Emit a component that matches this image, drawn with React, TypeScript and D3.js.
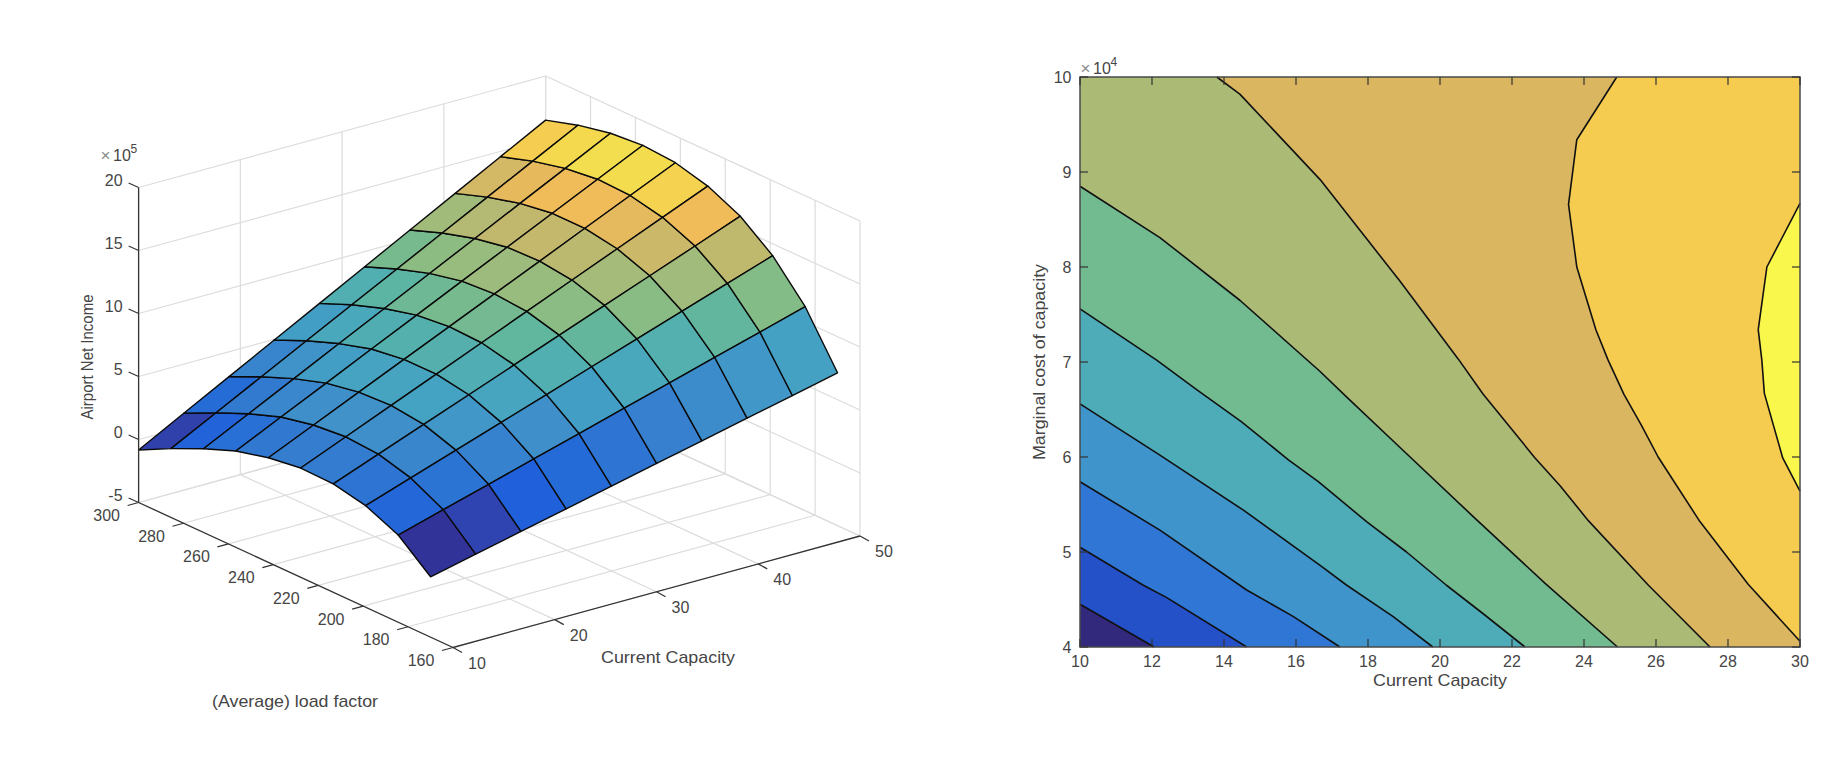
import React from "react";
import * as d3 from "d3";

const capacityGrid = [10, 14.44, 18.89, 23.33, 27.78, 32.22, 36.67, 41.11, 45.56, 50];
const loadGrid = [300, 285.6, 271.1, 256.7, 242.2, 227.8, 213.3, 198.9, 184.4, 170];
// rows follow loadGrid, columns follow capacityGrid; units of 1e5
const income = [
  [-0.83, 1.1, 3.02, 4.95, 6.87, 8.8, 10.73, 12.65, 14.58, 16.5],
  [0.46, 2.33, 4.2, 6.07, 7.94, 9.8, 11.67, 13.54, 15.41, 17.28],
  [1.64, 3.44, 5.24, 7.04, 8.84, 10.64, 12.43, 14.23, 16.03, 17.83],
  [2.65, 4.36, 6.07, 7.79, 9.5, 11.21, 12.92, 14.63, 16.35, 18.06],
  [3.3, 4.92, 6.54, 8.16, 9.78, 11.39, 13.01, 14.63, 16.25, 17.87],
  [3.67, 5.17, 6.68, 8.18, 9.68, 11.19, 12.69, 14.19, 15.7, 17.2],
  [3.6, 4.98, 6.36, 7.73, 9.11, 10.49, 11.87, 13.24, 14.62, 16],
  [3.06, 4.28, 5.5, 6.72, 7.94, 9.17, 10.39, 11.61, 12.83, 14.05],
  [1.92, 2.95, 3.98, 5.01, 6.04, 7.07, 8.1, 9.13, 10.16, 11.19],
  [-0.21, 0.61, 1.42, 2.24, 3.05, 3.87, 4.68, 5.5, 6.31, 7.13],
];
const colorValues = [-0.2, 0.6, 1.4, 2.5, 3.5, 5, 6.3, 7.5, 9, 10.2, 12, 13, 14.5, 15.5, 16.3];
const colorStops = ["#323399", "#2f44b0", "#2060da", "#276ed7", "#337bd0", "#3f90ca", "#44a1c4", "#4dacb8", "#5eb5a0", "#84bc85", "#a8bb78", "#c4b86c", "#eeb95a", "#f5cf50", "#f3de4f"];

const capTicks = [10, 20, 30, 40, 50];
const loadTicks = [160, 180, 200, 220, 240, 260, 280, 300];
const zTicks = [-5, 0, 5, 10, 15, 20];

const contourCapTicks = [10, 12, 14, 16, 18, 20, 22, 24, 26, 28, 30];
const costTicks = [4, 5, 6, 7, 8, 9, 10];
const bandColors = ["#32297d", "#2450c8", "#3076d4", "#4094cc", "#4dacb8", "#72bb90", "#abba75", "#dab660", "#f5cb50", "#f9f64c"];
const contourLines: [number, number][][] = [
  [[10, 4.45], [12.06, 4]],
  [[10, 5.05], [11.76, 4.65], [12.41, 4.52], [14.63, 4]],
  [[10, 5.74], [12.22, 5.23], [14.63, 4.6], [15.93, 4.32], [17.22, 4]],
  [[10, 6.56], [12.22, 6.02], [14.54, 5.44], [16.67, 4.86], [17.41, 4.65], [18.7, 4.32], [19.8, 4]],
  [[10, 7.56], [12.13, 7.02], [13.24, 6.71], [14.49, 6.37], [15.79, 5.97], [16.62, 5.74], [17.96, 5.32], [19.07, 5], [20.18, 4.65], [21.2, 4.35], [22.36, 4]],
  [[10, 8.85], [12.22, 8.31], [14.44, 7.65], [16.67, 6.9], [17.41, 6.63], [18.89, 6.1], [20.93, 5.37], [22.92, 4.67], [24.93, 4]],
  [[13.8, 10], [14.44, 9.82], [16.67, 8.92], [18.89, 7.85], [20.51, 7.03], [21.2, 6.66], [22.64, 5.99], [23.33, 5.7], [24.12, 5.33], [25.79, 4.65], [27.5, 4]],
  [[24.91, 10], [23.8, 9.34], [23.57, 8.66], [23.8, 8], [24.33, 7.34], [24.67, 7.02], [25.11, 6.66], [25.6, 6.33], [26.06, 6], [27.22, 5.32], [28.56, 4.66], [30, 4.06]],
  [[30, 8.67], [29.08, 8], [28.84, 7.34], [28.94, 7.02], [29.01, 6.67], [29.52, 5.99], [30, 5.64]],
];

const TEXT = "#454545";
const FONT = "'Liberation Sans', Arial, sans-serif";
const W = 1826, H = 762;

// oblique projection: anchors of the 3D box
const capT = d3.scaleLinear().domain([10, 50]).range([0, 1]);
const loadT = d3.scaleLinear().domain([300, 160]).range([0, 1]);
const zPx = d3.scaleLinear().domain([-5, 20]).range([0, 315]);
const A = [138.6, 502.5];
const vx = [407, -111.5];
const vy = [314.4, 145];
function proj(c: number, l: number, z: number): [number, number] {
  const u = capT(c), v = loadT(l);
  return [A[0] + vx[0] * u + vy[0] * v, A[1] + vx[1] * u + vy[1] * v - zPx(z)];
}

const color = d3.scaleLinear<string>().domain(colorValues).range(colorStops).interpolate(d3.interpolateRgb).clamp(true);
const line = d3.line();

function Lbl(p: { x: number; y: number; t: React.ReactNode; len?: number; anchor?: string; size?: number; rot?: number }) {
  const size = p.size ?? 16;
  return (
    <text
      transform={`translate(${p.x},${p.y})${p.rot ? ` rotate(${p.rot})` : ""}`}
      textAnchor={p.anchor ?? "middle"}
      fontFamily={FONT}
      fontSize={size}
      fill={TEXT}
      textLength={p.len}
      lengthAdjust={p.len ? "spacingAndGlyphs" : undefined}
    >
      {p.t}
    </text>
  );
}

function Exponent(p: { x: number; y: number; power: number }) {
  return (
    <g fontFamily={FONT} fill={TEXT}>
      <text x={p.x} y={p.y} fontSize={17} fontWeight={300} fill="#8a8a8a">×</text>
      <text x={p.x + 12.5} y={p.y} fontSize={16}>10</text>
      <text x={p.x + 30} y={p.y - 8} fontSize={12}>{p.power}</text>
    </g>
  );
}

function Surface() {
  const seg = (a: [number, number], b: [number, number], k: string, stroke = "#dcdcdc", w = 1.2) => (
    <line key={k} x1={a[0]} y1={a[1]} x2={b[0]} y2={b[1]} stroke={stroke} strokeWidth={w} />
  );
  const grid: React.ReactNode[] = [];
  capTicks.forEach((c) => {
    grid.push(seg(proj(c, 300, -5), proj(c, 160, -5), `f${c}`));
    grid.push(seg(proj(c, 300, -5), proj(c, 300, 20), `w${c}`));
  });
  loadTicks.forEach((l) => {
    grid.push(seg(proj(10, l, -5), proj(50, l, -5), `g${l}`));
    grid.push(seg(proj(50, l, -5), proj(50, l, 20), `h${l}`));
  });
  zTicks.forEach((z) => {
    grid.push(seg(proj(10, 300, z), proj(50, 300, z), `i${z}`));
    grid.push(seg(proj(50, 300, z), proj(50, 160, z), `j${z}`));
  });

  const faces: React.ReactNode[] = [];
  for (let j = 0; j < 9; j++) {
    for (let i = 0; i < 9; i++) {
      const pts = [
        proj(capacityGrid[i], loadGrid[j], income[j][i]),
        proj(capacityGrid[i + 1], loadGrid[j], income[j][i + 1]),
        proj(capacityGrid[i + 1], loadGrid[j + 1], income[j + 1][i + 1]),
        proj(capacityGrid[i], loadGrid[j + 1], income[j + 1][i]),
      ];
      faces.push(
        <path key={`q${j}-${i}`} d={line(pts) + "Z"} fill={color(income[j + 1][i])} stroke="#0a0a0a" strokeWidth={1.4} strokeLinejoin="round" />
      );
    }
  }

  const axisInk = "#333";
  const ticks: React.ReactNode[] = [];
  zTicks.forEach((z) => {
    const p = proj(10, 300, z);
    ticks.push(seg(p, [p[0] - 10, p[1] - 4.5], `tz${z}`, axisInk, 1.2));
    ticks.push(<Lbl key={`lz${z}`} x={p[0] - 16} y={p[1] - 1.5} t={z} anchor="end" />);
  });
  loadTicks.forEach((l) => {
    const p = proj(10, l, -5);
    ticks.push(seg(p, [p[0] - 11, p[1] + 3], `tl${l}`, axisInk, 1.2));
    ticks.push(<Lbl key={`ll${l}`} x={p[0] - 32} y={p[1] + 18.5} t={l} />);
  });
  capTicks.forEach((c) => {
    const p = proj(c, 160, -5);
    ticks.push(seg(p, [p[0] + 9, p[1] + 5], `tc${c}`, axisInk, 1.2));
    ticks.push(<Lbl key={`lc${c}`} x={p[0] + 24} y={p[1] + 21} t={c} />);
  });
  return (
    <g>
      {grid}
      {faces}
      {seg(proj(10, 300, -5), proj(10, 300, 20), "az", axisInk, 1.3)}
      {seg(proj(10, 300, -5), proj(10, 160, -5), "al", axisInk, 1.3)}
      {seg(proj(10, 160, -5), proj(50, 160, -5), "ac", axisInk, 1.3)}
      {ticks}
      <Exponent x={100.5} y={161} power={5} />
      <Lbl x={93} y={357} t="Airport Net Income" rot={-90} len={125} size={16} />
      <Lbl x={668} y={663} t="Current Capacity" len={134} size={17} />
      <Lbl x={295} y={707} t="(Average) load factor" len={166} size={17} />
    </g>
  );
}

function Contour() {
  const x = d3.scaleLinear().domain([10, 30]).range([1080, 1800]);
  const y = d3.scaleLinear().domain([4, 10]).range([647, 77]);
  const toPx = (p: [number, number]): [number, number] => [x(p[0]), y(p[1])];
  const closers: [number, number][][] = [
    ...contourLines.slice(0, 6).map(() => [[30, 4], [30, 10], [10, 10]] as [number, number][]),
    [[30, 4], [30, 10]],
    [[30, 10]],
    [],
  ];
  return (
    <g>
      <rect x={x(10)} y={y(10)} width={x(30) - x(10)} height={y(4) - y(10)} fill={bandColors[0]} />
      {contourLines.map((l, k) => (
        <path key={`b${k}`} d={line([...l, ...closers[k]].map(toPx)) + "Z"} fill={bandColors[k + 1]} />
      ))}
      {contourLines.map((l, k) => (
        <path key={`l${k}`} d={line(l.map(toPx)) ?? ""} fill="none" stroke="#111" strokeWidth={1.6} strokeLinejoin="round" />
      ))}
      <rect x={x(10)} y={y(10)} width={x(30) - x(10)} height={y(4) - y(10)} fill="none" stroke="#4a4a4a" strokeWidth={1.5} />
      {contourCapTicks.map((c) => (
        <g key={`c${c}`}>
          <line x1={x(c)} x2={x(c)} y1={y(4)} y2={y(4) - 8} stroke="#333" strokeWidth={1.2} />
          <line x1={x(c)} x2={x(c)} y1={y(10)} y2={y(10) + 8} stroke="#333" strokeWidth={1.2} />
          <Lbl x={x(c)} y={y(4) + 20} t={c} />
        </g>
      ))}
      {costTicks.map((c) => (
        <g key={`d${c}`}>
          <line x1={x(10)} x2={x(10) + 8} y1={y(c)} y2={y(c)} stroke="#333" strokeWidth={1.2} />
          <line x1={x(30)} x2={x(30) - 8} y1={y(c)} y2={y(c)} stroke="#333" strokeWidth={1.2} />
          <Lbl x={x(10) - 8.5} y={y(c) + 6} t={c} anchor="end" />
        </g>
      ))}
      <Exponent x={1080.5} y={74} power={4} />
      <Lbl x={x(20)} y={686} t="Current Capacity" len={134} size={17} />
      <Lbl x={1045} y={362} t="Marginal cost of capacity" rot={-90} len={196} size={17} />
    </g>
  );
}

export default function App() {
  return (
    <svg width={W} height={H} style={{ position: "absolute", left: 0, top: 0, background: "#fff" }}>
      <Surface />
      <Contour />
    </svg>
  );
}
